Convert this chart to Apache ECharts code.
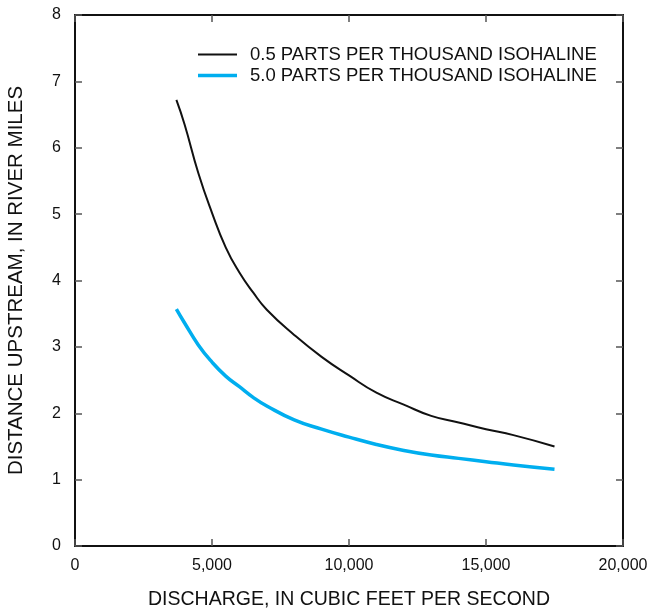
<!DOCTYPE html>
<html>
<head>
<meta charset="utf-8">
<script src="https://cdn.jsdelivr.net/npm/echarts@6/dist/echarts.min.js"></script>
<style>
  html, body { margin: 0; padding: 0; background: #fff; }
  #chart { width: 648px; height: 610px; }
</style>
</head>
<body>
<div id="chart"></div>
<script>
// discharge (cfs) vs distance upstream (river miles)
const discharge = [3700, 4000, 4500, 5000, 5500, 6000, 6500, 7000, 8000, 9000,
  10000, 11000, 12000, 13000, 14000, 15000, 16000, 17500];
const iso05 = [6.72, 6.35, 5.62, 5.02, 4.50, 4.12, 3.82, 3.56, 3.18, 2.85,
  2.57, 2.31, 2.13, 1.96, 1.86, 1.76, 1.67, 1.50];
const iso50 = [3.57, 3.36, 3.03, 2.77, 2.56, 2.40, 2.24, 2.11, 1.90, 1.76,
  1.64, 1.53, 1.44, 1.37, 1.32, 1.27, 1.22, 1.155];
const seriesNames = ['0.5 PARTS PER THOUSAND ISOHALINE', '5.0 PARTS PER THOUSAND ISOHALINE'];

const font = 'Liberation Sans, Arial, sans-serif';
const pair = (ys) => discharge.map((x, i) => [x, ys[i]]);

const chart = echarts.init(document.getElementById('chart'));

const tick = { show: true, inside: true, length: 7, lineStyle: { color: '#555', width: 1.5 } };
const line = { show: true, onZero: false, lineStyle: { color: '#111', width: 2 } };

chart.setOption({
  animation: false,
  grid: { left: 75, right: 25, top: 15, bottom: 64, outerBoundsMode: 'none' },
  legend: {
    orient: 'vertical',
    left: 193,
    top: 40,
    itemWidth: 39,
    itemHeight: 18,
    itemGap: 2,
    textStyle: { fontFamily: font, fontSize: 18.5, color: '#111', padding: [0, 0, 0, 8] },
    data: [
      { name: seriesNames[0], icon: 'path://M0,0H40V2H0Z', itemStyle: { color: '#111' } },
      { name: seriesNames[1], icon: 'path://M0,0H40V3.5H0Z', itemStyle: { color: '#00AEEF' } }
    ]
  },
  xAxis: [
    {
      type: 'value', min: 0, max: 20000, interval: 5000,
      name: 'DISCHARGE, IN CUBIC FEET PER SECOND',
      nameLocation: 'middle', nameGap: 44,
      nameTextStyle: { fontFamily: font, fontSize: 19.5, color: '#111' },
      axisLine: line, axisTick: tick, splitLine: { show: false },
      axisLabel: {
        fontFamily: font, fontSize: 16, color: '#111', margin: 12,
        formatter: v => v.toLocaleString('en-US')
      }
    },
    {
      type: 'value', position: 'top', min: 0, max: 20000, interval: 5000,
      axisLine: line, axisTick: tick, splitLine: { show: false },
      axisLabel: { show: false }
    }
  ],
  yAxis: [
    {
      type: 'value', min: 0, max: 8, interval: 1,
      name: 'DISTANCE UPSTREAM, IN RIVER MILES',
      nameLocation: 'middle', nameGap: 48, nameRotate: 90,
      nameTextStyle: { fontFamily: font, fontSize: 20.5, color: '#111' },
      axisLine: line, axisTick: tick, splitLine: { show: false },
      axisLabel: { fontFamily: font, fontSize: 16, color: '#111', margin: 14 }
    },
    {
      type: 'value', position: 'right', min: 0, max: 8, interval: 1,
      axisLine: line, axisTick: tick, splitLine: { show: false },
      axisLabel: { show: false }
    }
  ],
  series: [
    {
      name: seriesNames[0],
      type: 'line',
      data: pair(iso05),
      smooth: 0.5,
      showSymbol: false,
      lineStyle: { color: '#111', width: 2 },
      itemStyle: { color: '#111' }
    },
    {
      name: seriesNames[1],
      type: 'line',
      data: pair(iso50),
      smooth: 0.5,
      showSymbol: false,
      lineStyle: { color: '#00AEEF', width: 3.5 },
      itemStyle: { color: '#00AEEF' }
    }
  ]
});
</script>
</body>
</html>
